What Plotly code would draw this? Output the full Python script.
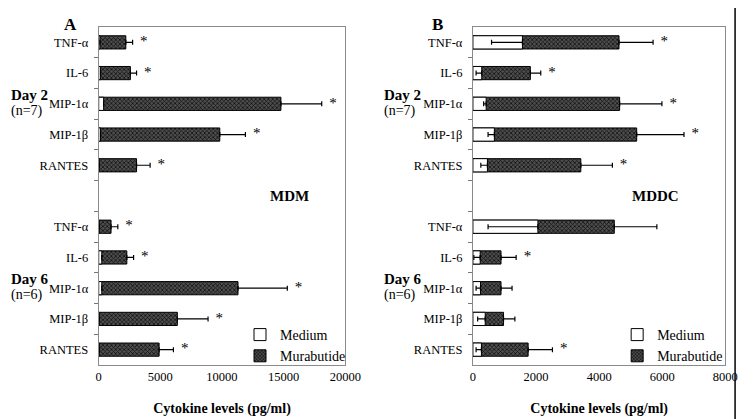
import plotly.graph_objects as go

# ---------------- data ----------------
cytokines = ["TNF-α", "IL-6", "MIP-1α", "MIP-1β", "RANTES"]
day2_pos = [0, 1, 2, 3, 4]
day6_pos = [6, 7, 8, 9, 10]

# Panel A: MDM
mdm_med_d2 = [100, 150, 400, 150, 50]
mdm_med_d2_err = [0, 0, 0, 0, 0]
mdm_mur_d2 = [2200, 2570, 14780, 9820, 3070]
mdm_mur_d2_err = [550, 500, 3310, 2080, 1100]
mdm_med_d6 = [50, 250, 250, 50, 50]
mdm_med_d6_err = [0, 0, 0, 0, 0]
mdm_mur_d6 = [1000, 2280, 11300, 6380, 4900]
mdm_mur_d6_err = [550, 550, 4000, 2490, 1160]
mdm_sig_d2 = [True, True, True, True, True]
mdm_sig_d6 = [True, True, True, True, True]

# Panel B: MDDC
mddc_med_d2 = [1570, 280, 420, 680, 460]
mddc_med_d2_err = [980, 180, 80, 200, 210]
mddc_mur_d2 = [4630, 1820, 4650, 5190, 3420]
mddc_mur_d2_err = [1080, 330, 1340, 1500, 1000]
mddc_med_d6 = [2060, 230, 240, 390, 270]
mddc_med_d6_err = [1580, 200, 140, 240, 170]
mddc_mur_d6 = [4480, 890, 890, 970, 1750]
mddc_mur_d6_err = [1350, 480, 350, 360, 770]
mddc_sig_d2 = [True, True, True, True, True]
mddc_sig_d6 = [False, True, False, False, True]

x_ticks_a = [0, 5000, 10000, 15000, 20000]
x_ticks_b = [0, 2000, 4000, 6000, 8000]

# ---------------- styling ----------------
OFF = 8                      # default page margin around the plot div
W, H = 754 - OFF, 419 - OFF
SERIF = "Liberation Serif"
DARK = "#333333"
BAR_W = 0.43

def px(v):
    return (v - OFF) / W

def py(v):
    return 1 - (v - OFF) / H

fig = go.Figure()

panels = [
    dict(xa="x", ya="y", legend="legend",
         med=mdm_med_d2 + mdm_med_d6, med_err=mdm_med_d2_err + mdm_med_d6_err,
         mur=mdm_mur_d2 + mdm_mur_d6, mur_err=mdm_mur_d2_err + mdm_mur_d6_err,
         sig=mdm_sig_d2 + mdm_sig_d6),
    dict(xa="x2", ya="y2", legend="legend2",
         med=mddc_med_d2 + mddc_med_d6, med_err=mddc_med_d2_err + mddc_med_d6_err,
         mur=mddc_mur_d2 + mddc_mur_d6, mur_err=mddc_mur_d2_err + mddc_mur_d6_err,
         sig=mddc_sig_d2 + mddc_sig_d6),
]
ypos = day2_pos + day6_pos

for p in panels:
    fig.add_trace(go.Bar(
        x=p["mur"], y=ypos, orientation="h", name="Murabutide",
        xaxis=p["xa"], yaxis=p["ya"], legend=p["legend"], legendrank=2,
        width=BAR_W,
        marker=dict(color=DARK, line=dict(color="black", width=1),
                    pattern=dict(shape="x", fgcolor="#111111", bgcolor="#4e4e4e",
                                 size=3, solidity=0.45, fillmode="replace")),
        error_x=dict(type="data", symmetric=False, array=p["mur_err"],
                     arrayminus=[0] * len(p["mur_err"]),
                     color="black", thickness=1.2, width=2.5),
    ))
    fig.add_trace(go.Bar(
        x=p["med"], y=ypos, orientation="h", name="Medium",
        xaxis=p["xa"], yaxis=p["ya"], legend=p["legend"], legendrank=1,
        width=BAR_W,
        marker=dict(color="white", line=dict(color="black", width=1)),
        error_x=dict(type="data", symmetric=False, array=[0] * len(p["med_err"]),
                     arrayminus=p["med_err"],
                     color="black", thickness=1.2, width=2.5),
    ))
    sx = [m + e for m, e, s in zip(p["mur"], p["mur_err"], p["sig"]) if s]
    sy = [y for y, s in zip(ypos, p["sig"]) if s]
    fig.add_trace(go.Scatter(
        x=sx, y=sy, mode="text", text=["  *"] * len(sx),
        textposition="middle right", textfont=dict(family=SERIF, size=15, color="#000000"),
        xaxis=p["xa"], yaxis=p["ya"], showlegend=False, cliponaxis=False, hoverinfo="skip",
    ))

ydom = [py(365), py(27)]
yaxis_common = dict(
    range=[10.5, -0.5], domain=ydom, showgrid=False, zeroline=False,
    tickvals=day2_pos + day6_pos, ticktext=cytokines + cytokines,
    ticks="", ticklabelstandoff=7,
    tickfont=dict(family=SERIF, size=12.5, color="black"),
    minor=dict(tickvals=[0.5, 1.5, 2.5, 3.5, 4.5, 5.5, 6.5, 7.5, 8.5, 9.5],
               ticks="outside", ticklen=4, tickcolor="#777", tickwidth=1),
    showline=True, linecolor="#8a8a8a", linewidth=1, mirror=True,
)
xaxis_common = dict(
    showgrid=False, zeroline=False, ticks="", tickformat="d",
    tickfont=dict(family=SERIF, size=12.5, color="black"),
    showline=True, linecolor="#8a8a8a", linewidth=1, mirror=True,
    title=dict(text="<b>Cytokine levels (pg/ml)</b>",
               font=dict(family=SERIF, size=14, color="black"), standoff=20),
)

fig.update_layout(
    width=W, height=H, margin=dict(l=0, r=0, t=0, b=0),
    paper_bgcolor="white", plot_bgcolor="white",
    barmode="overlay", showlegend=True,
    xaxis=dict(xaxis_common, domain=[px(98), px(351)], range=[0, 20000],
               tickvals=x_ticks_a, anchor="y"),
    yaxis=dict(yaxis_common, anchor="x"),
    xaxis2=dict(xaxis_common, domain=[px(482), px(741)], range=[0, 8000],
                tickvals=x_ticks_b, anchor="y2"),
    yaxis2=dict(yaxis_common, anchor="x2"),
    legend=dict(x=px(243), y=py(319), xanchor="left", yanchor="top",
                font=dict(family=SERIF, size=14, color="black"),
                bgcolor="rgba(0,0,0,0)", tracegroupgap=0, itemwidth=30),
    legend2=dict(x=px(630), y=py(319), xanchor="left", yanchor="top",
                 font=dict(family=SERIF, size=14, color="black"),
                 bgcolor="rgba(0,0,0,0)", tracegroupgap=0, itemwidth=30),
)

annos = []
# Panel letters
annos.append(dict(text="<b>A</b>", x=px(60), y=py(13), xref="paper", yref="paper",
                  showarrow=False, font=dict(family=SERIF, size=17, color="black")))
annos.append(dict(text="<b>B</b>", x=px(446), y=py(13), xref="paper", yref="paper",
                  showarrow=False, font=dict(family=SERIF, size=17, color="black")))
# Day labels
for xleft, yref in [(6, "y"), (389, "y2")]:
    for day, n, pos in [("Day 2", "(n=7)", 2), ("Day 6", "(n=6)", 8)]:
        annos.append(dict(text=f"<b>{day}</b>", x=px(xleft), y=pos, xref="paper", yref=yref,
                          xanchor="left", yshift=9, showarrow=False,
                          font=dict(family=SERIF, size=15, color="black")))
        annos.append(dict(text=n, x=px(xleft), y=pos, xref="paper", yref=yref,
                          xanchor="left", yshift=-7, showarrow=False,
                          font=dict(family=SERIF, size=14, color="black")))
# Cell type labels
annos.append(dict(text="<b>MDM</b>", x=15500, y=5, xref="x", yref="y", showarrow=False,
                  font=dict(family=SERIF, size=15, color="black")))
annos.append(dict(text="<b>MDDC</b>", x=5800, y=5, xref="x2", yref="y2", showarrow=False,
                  font=dict(family=SERIF, size=15, color="black")))
fig.update_layout(annotations=annos)

# frame edge at right of the scanned figure
fig.add_shape(type="line", xref="paper", yref="paper", x0=px(751), x1=px(751), y0=0, y1=1,
              line=dict(color="black", width=1.5))

fig.write_html("out.html")
